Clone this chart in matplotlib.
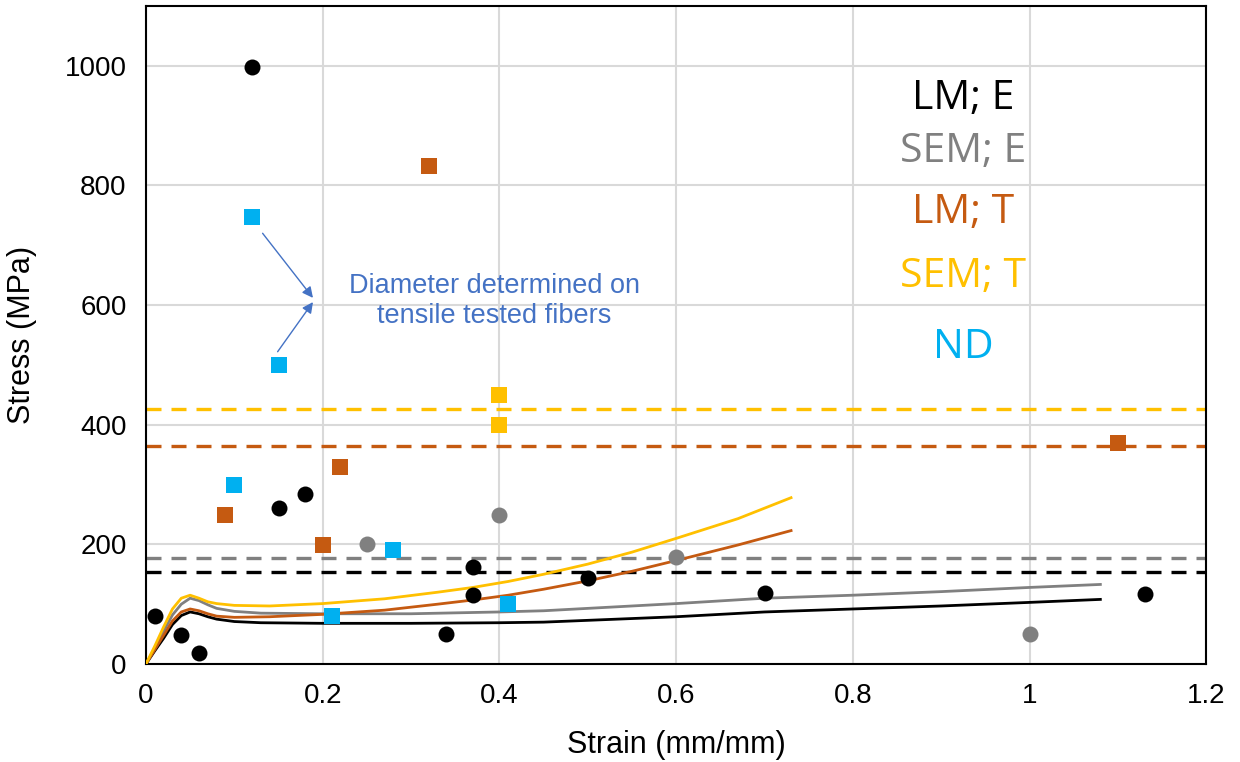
import matplotlib
matplotlib.use("Agg")
import matplotlib.pyplot as plt
import numpy as np

# ---- data ----
lm_e_x = [0.01, 0.04, 0.06, 0.12, 0.15, 0.18, 0.34, 0.37, 0.37, 0.50, 0.70, 1.13]
lm_e_y = [80, 48, 18, 998, 260, 285, 50, 162, 116, 143, 118, 117]

sem_e_x = [0.25, 0.40, 0.60, 1.00]
sem_e_y = [200, 249, 179, 50]

lm_t_x = [0.09, 0.20, 0.22, 0.32, 1.10]
lm_t_y = [249, 199, 330, 832, 370]

sem_t_x = [0.40, 0.40]
sem_t_y = [450, 400]

nd_x = [0.12, 0.15, 0.10, 0.28, 0.21, 0.41]
nd_y = [748, 499, 299, 191, 80, 101]

# mean lines
mean_sem_t = 427
mean_lm_t = 365
mean_sem_e = 178
mean_lm_e = 154

# stress-strain curves
curve_e_x = [0.0, 0.01, 0.02, 0.03, 0.04, 0.05, 0.06, 0.07, 0.08, 0.10, 0.13, 0.20, 0.30, 0.40,
             0.45, 0.50, 0.60, 0.70, 0.80, 0.90, 1.00, 1.08]
curve_lm_e_y = [0, 22, 43, 66, 81, 87, 84, 79, 75, 71, 69, 68, 68, 69,
                70, 73, 79, 87, 92, 97, 103, 108]
curve_sem_e_y = [0, 26, 55, 82, 100, 110, 106, 99, 93, 88, 85, 84, 84, 87,
                 89, 93, 101, 110, 115, 121, 128, 133]

curve_t_x = [0.0, 0.01, 0.02, 0.03, 0.04, 0.05, 0.06, 0.07, 0.08, 0.10, 0.14, 0.20, 0.27, 0.33,
             0.37, 0.41, 0.45, 0.50, 0.55, 0.60, 0.67, 0.73]
curve_lm_t_y = [0, 24, 48, 72, 87, 92, 89, 84, 80, 78, 79, 83, 90, 100,
                107, 115, 125, 139, 155, 173, 199, 223]
curve_sem_t_y = [0, 30, 62, 92, 110, 115, 110, 104, 101, 98, 97, 101, 109, 120,
                 128, 138, 150, 167, 187, 210, 243, 278]

labels = ["LM; E", "SEM; E", "LM; T", "SEM; T", "ND"]

C_BLACK = "#000000"
C_GREY = "#808080"
C_ORANGE = "#C55A11"
C_YELLOW = "#FFC000"
C_BLUE = "#00B0F0"
C_NOTE = "#4472C4"

fig = plt.figure(figsize=(12.4, 7.62), dpi=100)
ax = fig.add_axes([0.1177, 0.1286, 0.8552, 0.8636])

ax.set_xlim(0, 1.2)
ax.set_ylim(0, 1100)
ax.set_xticks([0, 0.2, 0.4, 0.6, 0.8, 1.0, 1.2])
ax.set_xticklabels(["0", "0.2", "0.4", "0.6", "0.8", "1", "1.2"])
ax.set_yticks([0, 200, 400, 600, 800, 1000])
ax.grid(True, color="#D9D9D9", linewidth=1.5, zorder=0)
ax.set_axisbelow(True)
for s in ax.spines.values():
    s.set_color("black")
    s.set_linewidth(1.5)
ax.tick_params(axis="both", length=0, labelsize=20, pad=14)
for t in ax.get_xticklabels() + ax.get_yticklabels():
    t.set_fontfamily("Liberation Sans")

ax.set_xlabel("Strain (mm/mm)", fontsize=22, family="Liberation Sans", labelpad=15)
ax.set_ylabel("Stress (MPa)", fontsize=22, family="Liberation Sans", labelpad=20)

# mean dashed lines
dash = (0, (4.5, 3))
ax.axhline(mean_sem_t, color=C_YELLOW, lw=2.4, linestyle=dash, zorder=2)
ax.axhline(mean_lm_t, color=C_ORANGE, lw=2.4, linestyle=dash, zorder=2)
ax.axhline(mean_sem_e, color=C_GREY, lw=2.4, linestyle=dash, zorder=2)
ax.axhline(mean_lm_e, color=C_BLACK, lw=2.4, linestyle=dash, zorder=2)

# curves
ax.plot(curve_e_x, curve_lm_e_y, color=C_BLACK, lw=2, zorder=3, solid_joinstyle="round")
ax.plot(curve_e_x, curve_sem_e_y, color=C_GREY, lw=2, zorder=3, solid_joinstyle="round")
ax.plot(curve_t_x, curve_lm_t_y, color=C_ORANGE, lw=2, zorder=3, solid_joinstyle="round")
ax.plot(curve_t_x, curve_sem_t_y, color=C_YELLOW, lw=2, zorder=3, solid_joinstyle="round")

# scatter points
ax.plot(lm_e_x, lm_e_y, "o", color=C_BLACK, ms=11.5, mew=0, zorder=4)
ax.plot(sem_e_x, sem_e_y, "o", color=C_GREY, ms=11.5, mew=0, zorder=4)
ax.plot(lm_t_x, lm_t_y, "s", color=C_ORANGE, ms=11, mew=0, zorder=4)
ax.plot(sem_t_x, sem_t_y, "s", color=C_YELLOW, ms=11, mew=0, zorder=4)
ax.plot(nd_x, nd_y, "s", color=C_BLUE, ms=11, mew=0, zorder=4)

# annotation
ax.text(0.3945, 606, "Diameter determined on\ntensile tested fibers", color=C_NOTE,
        fontsize=19.5, family="Liberation Sans", ha="center", va="center", linespacing=1.2, zorder=5)
arrow_kw = dict(arrowstyle="-|>", color=C_NOTE, lw=1, mutation_scale=16, shrinkA=0, shrinkB=0)
ax.annotate("", xy=(0.189, 612), xytext=(0.132, 720), arrowprops=arrow_kw, zorder=5)
ax.annotate("", xy=(0.189, 605), xytext=(0.149, 522), arrowprops=arrow_kw, zorder=5)

# category labels
label_colors = [C_BLACK, C_GREY, C_ORANGE, C_YELLOW, C_BLUE]
label_y = [945, 856, 755, 647, 529]
for lab, col, yy in zip(labels, label_colors, label_y):
    ax.text(0.925, yy, lab, color=col, fontsize=29.5, family="Open Sans", ha="center", va="center", zorder=5)

fig.savefig("out.png", dpi=100)
